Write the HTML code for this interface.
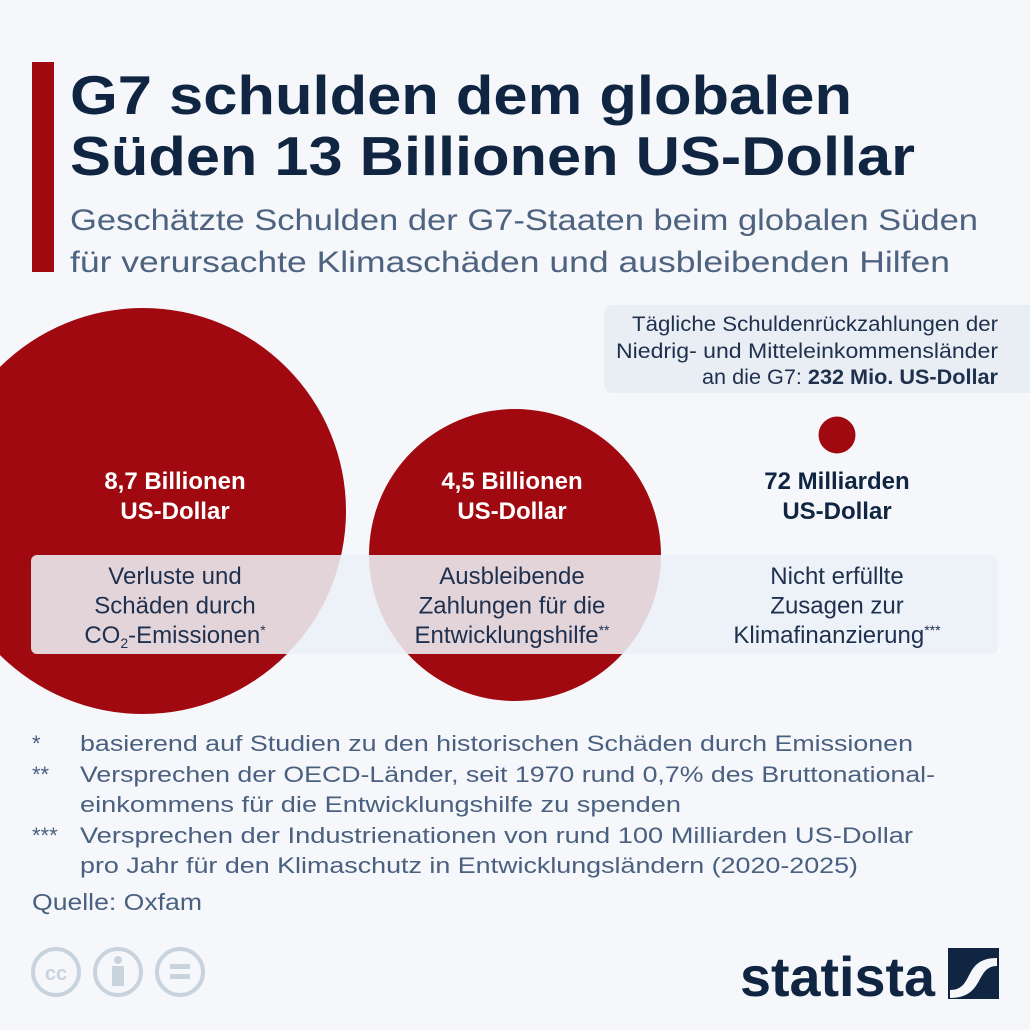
<!DOCTYPE html>
<html><head><meta charset="utf-8"><style>
html,body{margin:0;padding:0;background:#f5f7fa}
svg{display:block;font-family:"Liberation Sans",Arial,sans-serif}
</style></head><body>
<svg width="1030" height="1030" viewBox="0 0 1030 1030">
<rect width="1030" height="1030" fill="#f5f7fa"/>
<rect x="32" y="62" width="22" height="210" fill="#a0090f"/>
<g fill="#0f2542" font-weight="bold" font-size="55">
<text x="70" y="114" textLength="782" lengthAdjust="spacingAndGlyphs">G7 schulden dem globalen</text>
<text x="70" y="175" textLength="845" lengthAdjust="spacingAndGlyphs">Süden 13 Billionen US-Dollar</text>
</g>
<g fill="#4d6380" font-size="30">
<text x="70" y="230" textLength="908" lengthAdjust="spacingAndGlyphs">Geschätzte Schulden der G7-Staaten beim globalen Süden</text>
<text x="70" y="272" textLength="880" lengthAdjust="spacingAndGlyphs">für verursachte Klimaschäden und ausbleibenden Hilfen</text>
</g>
<rect x="604" y="305" width="440" height="88" rx="8" fill="#e9edf4"/>
<g fill="#1e304d" font-size="21" text-anchor="end">
<text x="998" y="331" textLength="366" lengthAdjust="spacingAndGlyphs">Tägliche Schuldenrückzahlungen der</text>
<text x="998" y="358" textLength="382" lengthAdjust="spacingAndGlyphs">Niedrig- und Mitteleinkommensländer</text>
<text x="998" y="384" textLength="296" lengthAdjust="spacingAndGlyphs">an die G7: <tspan font-weight="bold">232 Mio. US-Dollar</tspan></text>
</g>
<g id="bubbles"></g>
<rect x="31" y="555" width="967" height="99" rx="6" fill="rgb(236,240,247)" fill-opacity="0.88"/>
<g id="labels"></g>
<g fill="#4a6080" font-size="22">
<text x="32" y="751">*</text><text x="80" y="751" textLength="833" lengthAdjust="spacingAndGlyphs">basierend auf Studien zu den historischen Schäden durch Emissionen</text>
<text x="32" y="782">**</text><text x="80" y="782" textLength="855" lengthAdjust="spacingAndGlyphs">Versprechen der OECD-Länder, seit 1970 rund 0,7% des Bruttonational-</text>
<text x="80" y="812" textLength="601" lengthAdjust="spacingAndGlyphs">einkommens für die Entwicklungshilfe zu spenden</text>
<text x="32" y="843">***</text><text x="80" y="843" textLength="833" lengthAdjust="spacingAndGlyphs">Versprechen der Industrienationen von rund 100 Milliarden US-Dollar</text>
<text x="80" y="873" textLength="778" lengthAdjust="spacingAndGlyphs">pro Jahr für den Klimaschutz in Entwicklungsländern (2020-2025)</text>
<text x="32" y="910" font-size="23" textLength="170" lengthAdjust="spacingAndGlyphs">Quelle: Oxfam</text>
</g>
<g fill="none" stroke="#c9d3de" stroke-width="4">
<circle cx="56" cy="972" r="23"/><circle cx="118" cy="972" r="23"/><circle cx="180" cy="972" r="23"/>
<text x="56" y="980" font-size="20" font-weight="bold" fill="#c9d3de" stroke="none" text-anchor="middle">cc</text>
<circle cx="118" cy="960" r="4" fill="#c9d3de" stroke="none"/>
<rect x="112" y="966" width="12" height="20" fill="#c9d3de" stroke="none"/>
<rect x="170" y="964" width="20" height="5" fill="#c9d3de" stroke="none"/>
<rect x="170" y="974" width="20" height="5" fill="#c9d3de" stroke="none"/>
</g>
<text x="740" y="996" font-size="56" font-weight="bold" fill="#0f2542" textLength="195" lengthAdjust="spacingAndGlyphs">statista</text>
<g>
<rect x="948" y="948" width="51" height="51" fill="#0f2542"/>
<path d="M950 990 C975 990 962 958 997 958 L997 966 C975 966 985 998 950 998 Z" fill="#f5f7fa"/>
</g>
<script>
const categories=["Verluste und Schäden durch CO2-Emissionen","Ausbleibende Zahlungen für die Entwicklungshilfe","Nicht erfüllte Zusagen zur Klimafinanzierung"];
const values=[8700,4500,72];
const valueLabels=[["8,7 Billionen","US-Dollar"],["4,5 Billionen","US-Dollar"],["72 Milliarden","US-Dollar"]];
const catLines=[["Verluste und","Schäden durch","CO2-Emissionen*"],["Ausbleibende","Zahlungen für die","Entwicklungshilfe**"],["Nicht erfüllte","Zusagen zur","Klimafinanzierung***"]];
const NS="http://www.w3.org/2000/svg";
const colX=[175,512,837];
const maxR=203;
function rScale(v){return maxR*Math.sqrt(v/values[0]);}
const bub=document.getElementById('bubbles');
const lab=document.getElementById('labels');
values.forEach((v,i)=>{
  const r=rScale(v);
  const c=document.createElementNS(NS,'circle');
  let cx,cy;
  if(i===0){cx=346-r;cy=511;}else if(i===1){cx=colX[1]+3;cy=555;}else{cx=colX[2];cy=435;}
  c.setAttribute('cx',cx);c.setAttribute('cy',cy);c.setAttribute('r',r);c.setAttribute('fill','#a0090f');
  
  
  bub.appendChild(c);
  valueLabels[i].forEach((t,j)=>{
    const e=document.createElementNS(NS,'text');
    e.setAttribute('x',colX[i]);e.setAttribute('y',489+j*30);
    e.setAttribute('text-anchor','middle');e.setAttribute('font-size','24');e.setAttribute('font-weight','bold');
    e.setAttribute('fill',i<2?'#ffffff':'#0f2542');
    e.textContent=t;
    
    
    lab.appendChild(e);
  });
  catLines[i].forEach((t,j)=>{
    const e=document.createElementNS(NS,'text');
    e.setAttribute('x',colX[i]);e.setAttribute('y',584+j*29.5);
    e.setAttribute('text-anchor','middle');e.setAttribute('font-size','24');e.setAttribute('fill','#1e304d');
    const m=t.match(/^(.*?)(\*+)$/);
    let body=m?m[1]:t;
    if(body.startsWith('CO2')){
      e.appendChild(document.createTextNode('CO'));
      const s=document.createElementNS(NS,'tspan');s.setAttribute('font-size','14');s.setAttribute('dy','5');s.textContent='2';e.appendChild(s);
      const s2=document.createElementNS(NS,'tspan');s2.setAttribute('dy','-5');s2.textContent=body.slice(3);e.appendChild(s2);
    } else e.appendChild(document.createTextNode(body));
    if(m){const st=document.createElementNS(NS,'tspan');st.setAttribute('font-size','14');st.setAttribute('dy','-8');st.textContent=m[2];e.appendChild(st);}
    
    
    lab.appendChild(e);
  });
});
</script>
</svg>
</body></html>
